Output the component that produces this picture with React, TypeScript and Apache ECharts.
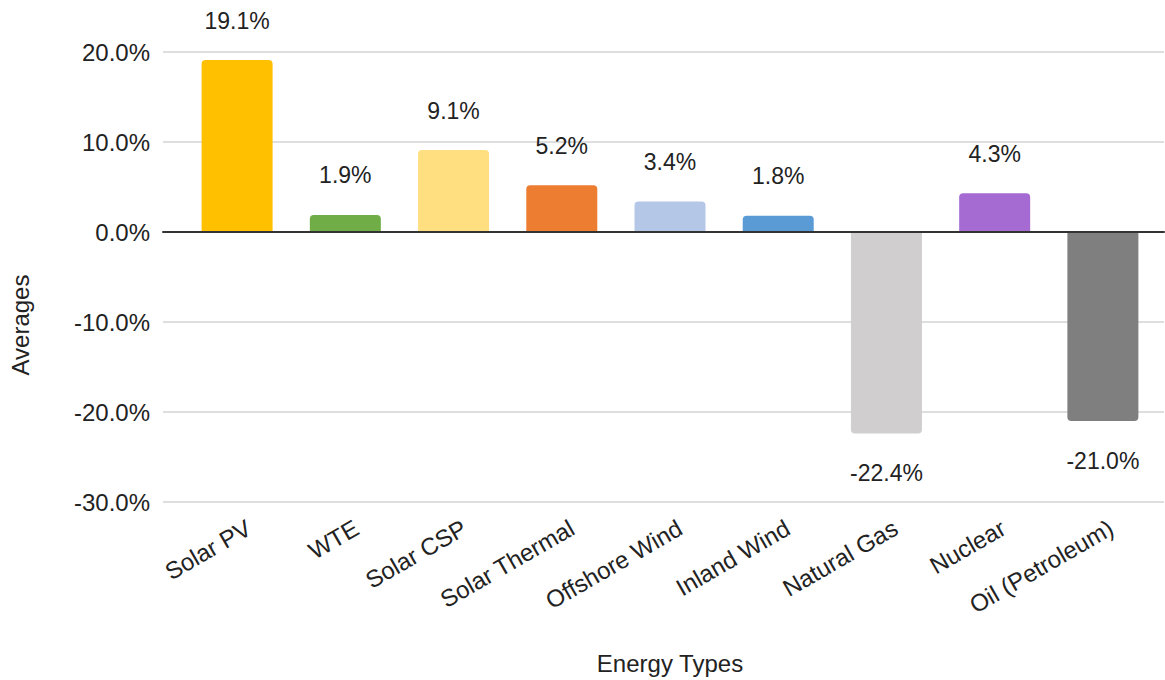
import React, { useEffect, useRef } from "react";
import * as echarts from "echarts";

const categories = [
  "Solar PV",
  "WTE",
  "Solar CSP",
  "Solar Thermal",
  "Offshore Wind",
  "Inland Wind",
  "Natural Gas",
  "Nuclear",
  "Oil (Petroleum)",
];
const averages = [19.1, 1.9, 9.1, 5.2, 3.4, 1.8, -22.4, 4.3, -21.0];
const barColors = [
  "#FFC000",
  "#70AD47",
  "#FFDF80",
  "#ED7D31",
  "#B4C7E7",
  "#5B9BD5",
  "#D0CECE",
  "#A66BD3",
  "#7F7F7F",
];
const yMin = -30;
const yMax = 20;
const yStep = 10;
const xAxisTitle = "Energy Types";
const yAxisTitle = "Averages";

const FONT = "'Liberation Sans', Arial, sans-serif";
const TEXT = "#222222";

export default function App() {
  const ref = useRef<HTMLDivElement>(null);
  useEffect(() => {
    document.body.style.margin = "0";
    if (!ref.current) return;
    const chart = echarts.init(ref.current, undefined, { renderer: "svg" });
    const top = 52;
    const bottom = 178;
    const labelShift = 12;
    chart.setOption({
      animation: false,
      backgroundColor: "#ffffff",
      textStyle: { fontFamily: FONT },
      grid: [
        { left: 163, right: 1, top, bottom },
        { left: 183, right: 8, top, bottom },
        { left: 183 + labelShift, right: 8 - labelShift, top, bottom },
      ],
      xAxis: [
        {
          gridIndex: 0,
          type: "category",
          data: [""],
          axisLine: { show: true, onZero: true, lineStyle: { color: "#333333", width: 2 } },
          axisTick: { show: false },
          axisLabel: { show: false },
          splitLine: { show: false },
          z: 5,
        },
        {
          gridIndex: 1,
          type: "category",
          data: categories,
          axisLine: { show: false, onZero: false },
          axisTick: { show: false },
          axisLabel: { show: false },
          name: xAxisTitle,
          nameLocation: "middle",
          nameGap: 149,
          nameTextStyle: { fontSize: 24, color: TEXT, fontFamily: FONT },
        },
        {
          gridIndex: 2,
          type: "category",
          data: categories,
          axisLine: { show: false, onZero: false },
          axisTick: { show: false },
          axisLabel: {
            show: true,
            rotate: 30,
            margin: 24,
            interval: 0,
            fontSize: 24,
            color: TEXT,
            fontFamily: FONT,
          },
        },
      ],
      yAxis: [
        {
          gridIndex: 0,
          type: "value",
          min: yMin,
          max: yMax,
          interval: yStep,
          axisLine: { show: false },
          axisTick: { show: false },
          axisLabel: {
            margin: 13,
            fontSize: 24,
            color: TEXT,
            fontFamily: FONT,
            formatter: (v: number) => `${v.toFixed(1)}%`,
          },
          splitLine: { show: true, lineStyle: { color: "#d3d3d3", width: 1.5 } },
        },
        {
          gridIndex: 1,
          type: "value",
          min: yMin,
          max: yMax,
          interval: yStep,
          axisLine: { show: false },
          axisTick: { show: false },
          axisLabel: { show: false },
          splitLine: { show: false },
        },
        {
          gridIndex: 2,
          type: "value",
          min: yMin,
          max: yMax,
          interval: yStep,
          show: false,
          splitLine: { show: false },
        },
      ],
      graphic: [
        {
          type: "text",
          x: 20,
          y: 325,
          rotation: Math.PI / 2,
          style: {
            text: yAxisTitle,
            fontSize: 24,
            fill: TEXT,
            fontFamily: FONT,
            align: "center",
            verticalAlign: "middle",
          },
        },
      ],
      series: [
        {
          type: "bar",
          xAxisIndex: 1,
          yAxisIndex: 1,
          barWidth: 71,
          z: 3,
          data: averages.map((v, i) => ({
            value: v,
            itemStyle: {
              color: barColors[i],
              borderRadius: v >= 0 ? [4, 4, 0, 0] : [0, 0, 4, 4],
            },
            label: { position: v >= 0 ? "top" : "bottom" },
          })),
          label: {
            show: true,
            distance: 28,
            fontSize: 23,
            color: TEXT,
            fontFamily: FONT,
            formatter: (p: any) => `${Number(p.value).toFixed(1)}%`,
          },
        },
      ],
    });
    return () => chart.dispose();
  }, []);
  return <div ref={ref} style={{ width: 1165, height: 680 }} />;
}
